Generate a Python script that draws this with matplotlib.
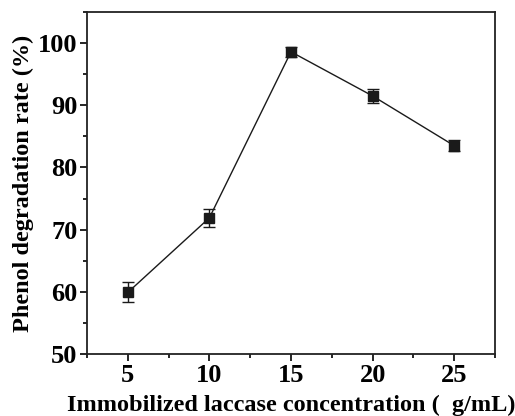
import numpy as np
import matplotlib
matplotlib.use("Agg")
from matplotlib import pyplot as plt
from matplotlib.ticker import MultipleLocator

# concentration vs degradation rate
conc = [5, 10, 15, 20, 25]
rate = [59.9, 71.9, 98.6, 91.5, 83.5]
err = [1.6, 1.4, 0.8, 1.1, 0.9]

plt.rcParams['font.family'] = ['Liberation Serif', 'DejaVu Serif']
plt.rcParams['font.weight'] = 'bold'

fig = plt.figure(figsize=(5.15, 4.16), dpi=100)
ax = fig.add_axes([87/515, 1 - 354/416, (495-87)/515, (354-12)/416])

ax.errorbar(conc, rate, yerr=err, color='#1a1a1a', marker='s', markersize=7,
            linewidth=1.0, elinewidth=1.0, capsize=4, capthick=1.0)

ax.set_xlim(2.5, 27.5)
ax.set_ylim(50, 105)
ax.xaxis.set_major_locator(MultipleLocator(5))
ax.xaxis.set_minor_locator(MultipleLocator(2.5))
ax.yaxis.set_major_locator(MultipleLocator(10))
ax.yaxis.set_minor_locator(MultipleLocator(5))
ax.tick_params(which='both', direction='out', top=False, right=False, width=1.2)
ax.tick_params(which='major', length=5, labelsize=19, pad=2)
ax.tick_params(which='minor', length=3)
for s in ax.spines.values():
    s.set_linewidth(1.3)
    s.set_color('#222222')

ax.set_xlabel('Immobilized laccase concentration (  g/mL)', fontsize=17.5, fontweight='bold', labelpad=6)
ax.set_ylabel('Phenol degradation rate (%)', fontsize=17.5, fontweight='bold', labelpad=3)

fig.savefig('out.png', dpi=100)
